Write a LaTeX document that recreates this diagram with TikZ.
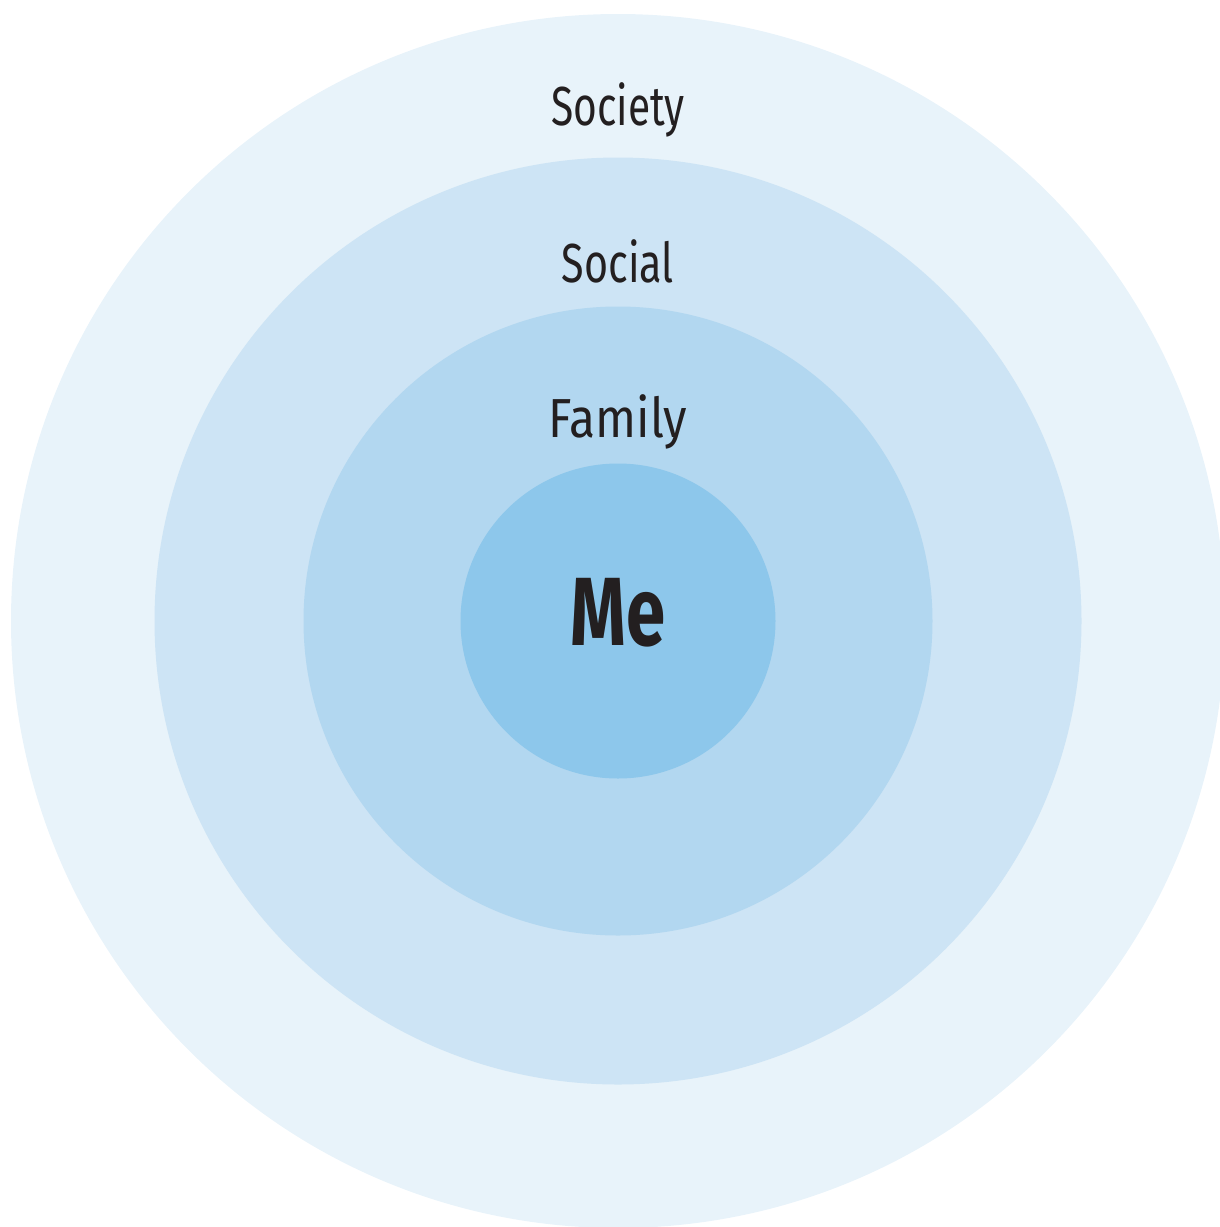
\documentclass[tikz,border=0pt]{standalone}
\usepackage{fontspec}
\setmainfont{Fira Sans}
\definecolor{c1}{HTML}{E8F3FA}
\definecolor{c2}{HTML}{CDE4F5}
\definecolor{c3}{HTML}{B2D7F0}
\definecolor{c4}{HTML}{8DC7EB}
\definecolor{ink}{HTML}{231F20}
\begin{document}
\begin{tikzpicture}[x=1pt,y=-1pt,
  ring/.style={circle,inner sep=0pt,draw=none},
  lbl/.style={text=ink,anchor=base,inner sep=0pt,font=\fontsize{55}{60}\selectfont}]
\useasboundingbox (0,0) rectangle (1219,1227);
\node[ring,fill=c1,minimum size=1214pt] (society) at (618,621) {};
\node[ring,fill=c2,minimum size=927pt] (social) at (618,621) {};
\node[ring,fill=c3,minimum size=629pt] (family) at (618,621) {};
\node[ring,fill=c4,minimum size=315pt] (me) at (618,621) {};
\node[lbl,xscale=0.74] (tsociety) at (618,125) {Society};
\node[lbl,xscale=0.75] (tsocial) at (618,282) {Social};
\node[lbl,xscale=0.87] (tfamily) at (618,437) {Family};
\node[lbl,xscale=0.73,font=\fontsize{97}{100}\selectfont\bfseries] (tme) at (618,645) {Me};
\end{tikzpicture}
\end{document}
